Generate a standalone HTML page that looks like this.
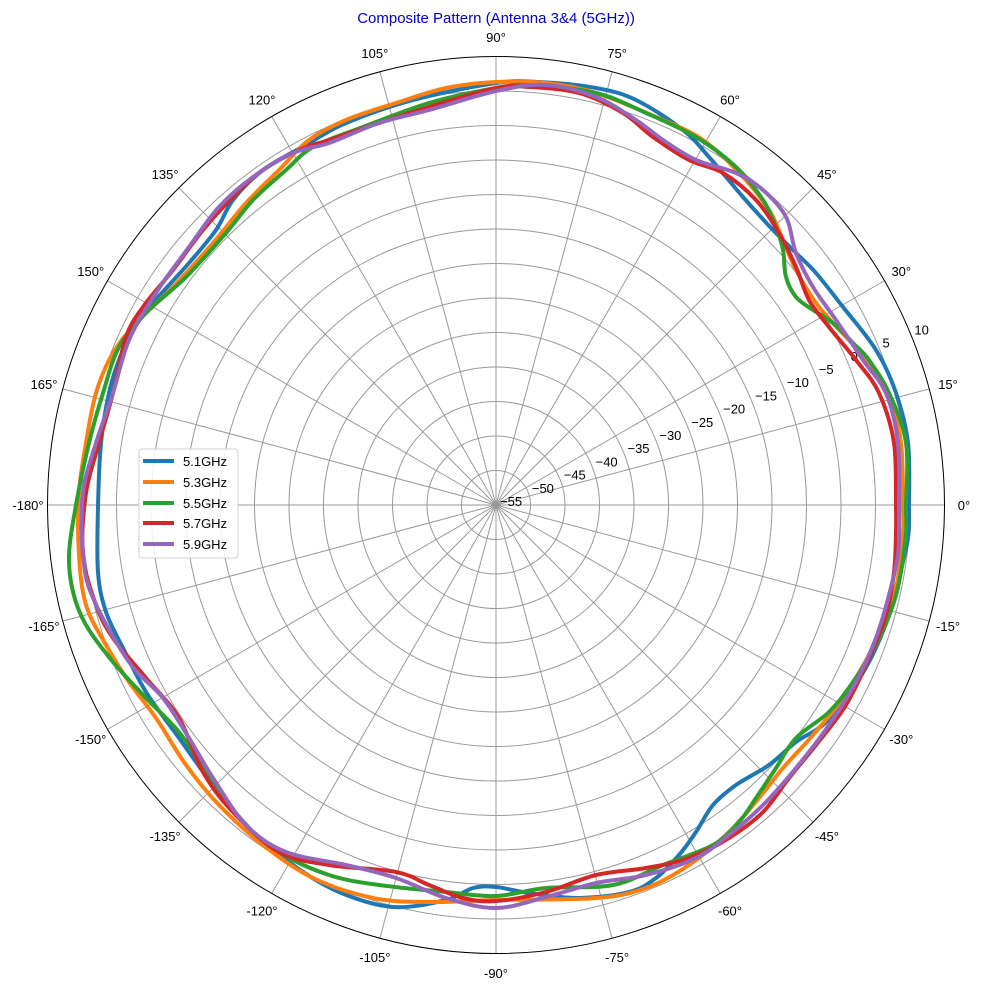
<!DOCTYPE html>
<html><head><meta charset="utf-8"><style>
html,body{margin:0;padding:0;background:#fff;}
svg{display:block;font-family:"Liberation Sans","DejaVu Sans",sans-serif;}
</style></head><body>
<svg id="s" width="981" height="990" viewBox="0 0 981 990" xmlns="http://www.w3.org/2000/svg">
<rect width="981" height="990" fill="#fff"/>
<text x="496" y="23" text-anchor="middle" font-size="15" fill="#0000cc">Composite Pattern (Antenna 3&amp;4 (5GHz))</text>
<g id="grid"></g>
<g id="curves" fill="none" stroke-width="4" stroke-linejoin="round" stroke-linecap="round"></g>
<g id="legend">
<rect x="139" y="449" width="99" height="109" rx="3" fill="#fff" fill-opacity="0.85" stroke="#d0d0d0"/>
<line x1="143" y1="461" x2="174" y2="461" stroke="#1f77b4" stroke-width="4"/>
<text x="183" y="466" font-size="13">5.1GHz</text>
<line x1="143" y1="482" x2="174" y2="482" stroke="#ff7f0e" stroke-width="4"/>
<text x="183" y="487" font-size="13">5.3GHz</text>
<line x1="143" y1="503" x2="174" y2="503" stroke="#2ca02c" stroke-width="4"/>
<text x="183" y="508" font-size="13">5.5GHz</text>
<line x1="143" y1="523" x2="174" y2="523" stroke="#d62728" stroke-width="4"/>
<text x="183" y="528" font-size="13">5.7GHz</text>
<line x1="143" y1="544" x2="174" y2="544" stroke="#9467bd" stroke-width="4"/>
<text x="183" y="549" font-size="13">5.9GHz</text>
</g>
</svg>
<script>
var NS="http://www.w3.org/2000/svg",cx=496,cy=505,R=448.5,st=R/13;
function el(t,a,p,txt){var e=document.createElementNS(NS,t);for(var k in a)e.setAttribute(k,a[k]);if(txt!=null)e.textContent=txt;p.appendChild(e);return e;}
var g=document.getElementById('grid');
for(var k=1;k<13;k++)el('circle',{cx:cx,cy:cy,r:k*st,fill:'none',stroke:'#999','stroke-width':1},g);
for(var a=0;a<360;a+=15){var t=a*Math.PI/180;el('line',{x1:cx,y1:cy,x2:cx+R*Math.cos(t),y2:cy-R*Math.sin(t),stroke:'#999','stroke-width':1},g);
var lbl=a<180?a:a-360;var lx=cx+468*Math.cos(t),ly=cy-468*Math.sin(t);
el('text',{x:lx,y:ly+5,'text-anchor':'middle','font-size':13},g,lbl+'°');}
el('circle',{cx:cx,cy:cy,r:R,fill:'none',stroke:'#000','stroke-width':1},g);
var t22=22.5*Math.PI/180;
for(var k=0;k<=13;k++){var v=-55+5*k;var r=k*st;var x=cx+r*Math.cos(t22)+4,y=cy-r*Math.sin(t22)+1;
el('text',{x:x,y:y,'font-size':13},g,(v<0?'\u2212'+(-v):''+v));}
var D={
'#1f77b4':[[909,507],[908,443],[896,393],[876,350],[843,307],[816,273],[796,253],[773,230],[743,197],[709,157],[683,130],[636,100],[596,88],[539,82],[496,83],[413,100],[346,123],[306,145],[263,170],[233,200],[216,230],[189,263],[153,303],[133,330],[119,360],[109,393],[101,443],[98,507],[98,572],[106,612],[123,648],[146,692],[179,738],[213,785],[253,832],[293,865],[339,892],[393,907],[446,900],[473,888],[496,887],[529,893],[579,898],[629,892],[656,878],[679,855],[696,832],[713,805],[736,785],[769,765],[796,742],[823,725],[846,698],[869,662],[888,618],[899,578],[908,538]],
'#ff7f0e':[[903,507],[901,443],[889,400],[866,360],[833,323],[816,303],[796,270],[783,240],[769,210],[743,177],[703,140],[656,117],[596,93],[546,83],[496,82],[446,88],[396,103],[346,120],[309,140],[279,170],[246,203],[213,243],[173,287],[139,320],[113,353],[96,393],[86,443],[79,493],[79,555],[86,605],[106,645],[129,682],[156,718],[186,765],[219,805],[263,845],[313,878],[373,898],[429,902],[496,900],[596,898],[646,888],[689,865],[729,832],[759,798],[783,768],[813,735],[843,698],[869,655],[889,612],[899,572],[903,532]],
'#2ca02c':[[906,507],[906,443],[889,393],[869,360],[853,343],[833,323],[813,310],[796,297],[786,277],[783,250],[776,227],[763,200],[736,167],[696,137],[646,113],[596,93],[529,85],[496,88],[429,103],[363,127],[313,147],[286,170],[253,200],[226,233],[186,277],[146,313],[119,347],[103,393],[89,443],[76,505],[69,555],[73,592],[86,625],[113,662],[146,698],[179,732],[206,772],[239,818],[279,852],[329,875],[379,885],[446,892],[496,896],[546,888],[613,885],[663,865],[713,845],[739,822],[756,798],[776,768],[796,738],[829,712],[853,682],[876,645],[893,605],[901,572],[906,532]],
'#d62728':[[896,507],[894,443],[879,393],[856,360],[829,327],[809,300],[796,267],[779,233],[756,200],[723,173],[689,160],[653,137],[623,113],[579,93],[529,87],[496,88],[429,107],[379,123],[329,140],[299,150],[263,170],[233,197],[203,230],[173,270],[143,307],[126,337],[113,393],[99,443],[86,493],[83,555],[96,605],[113,638],[146,678],[179,718],[203,772],[233,812],[279,852],[329,865],[396,872],[429,885],[463,898],[496,901],[546,892],[596,875],[646,868],[689,858],[729,838],[763,812],[789,778],[816,745],[846,705],[869,658],[886,615],[894,572],[896,532]],
'#9467bd':[[899,507],[898,443],[886,393],[863,360],[836,320],[813,287],[796,253],[786,217],[763,190],[736,173],[696,160],[663,140],[636,120],[596,97],[546,85],[496,91],[429,110],[379,123],[329,143],[293,153],[253,177],[219,207],[189,247],[156,293],[129,340],[113,393],[96,443],[83,493],[83,555],[93,598],[129,662],[163,698],[189,738],[213,778],[246,825],[286,852],[346,865],[396,878],[446,898],[496,908],[546,897],[596,883],[646,875],[696,858],[729,835],[763,805],[796,768],[829,725],[856,682],[876,638],[889,595],[898,555],[899,522]]};
var cg=document.getElementById('curves');
for(var c in D){var p=D[c],n=p.length,d='M'+p[0][0]+','+p[0][1];
for(var i=0;i<n;i++){var p0=p[(i-1+n)%n],p1=p[i],p2=p[(i+1)%n],p3=p[(i+2)%n];
d+=' C'+(p1[0]+(p2[0]-p0[0])/6).toFixed(1)+','+(p1[1]+(p2[1]-p0[1])/6).toFixed(1)+' '+(p2[0]-(p3[0]-p1[0])/6).toFixed(1)+','+(p2[1]-(p3[1]-p1[1])/6).toFixed(1)+' '+p2[0]+','+p2[1];}
el('path',{d:d,stroke:c},cg);}
</script>
</body></html>
